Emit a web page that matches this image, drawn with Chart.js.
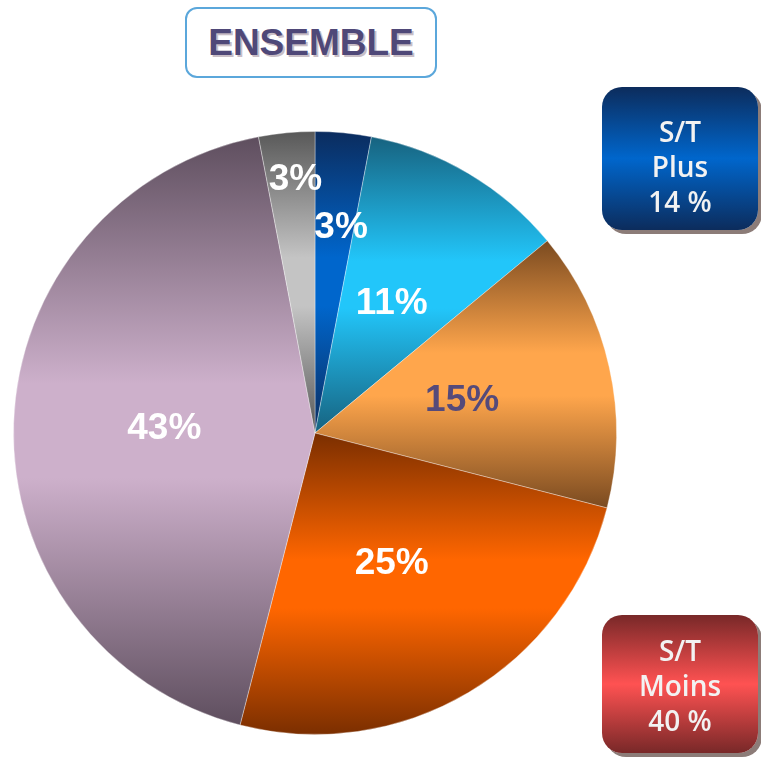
<!DOCTYPE html>
<html>
<head>
<meta charset="utf-8">
<script src="https://cdn.jsdelivr.net/npm/chart.js@4/dist/chart.umd.min.js"></script>
<style>
  html, body { margin: 0; padding: 0; background: #ffffff; }
  #wrap { position: relative; width: 761px; height: 761px; overflow: hidden; }
  #c { position: absolute; left: 0; top: 0; }
  .title {
    position: absolute; left: 185px; top: 7px; width: 248px; height: 67px;
    border: 2px solid #5ba7db; border-radius: 12px; background: #fff;
    display: flex; align-items: center; justify-content: center;
    font-family: "Liberation Sans", Arial, sans-serif; font-weight: bold; font-size: 37px;
    color: #4f4878; text-shadow: 2px 2px 0 #c9bec6; letter-spacing: 0px;
  }
  .box {
    position: absolute; left: 602px; width: 156px; border-radius: 20px;
    box-shadow: 4px 4px 0 #8c7c78;
    display: flex; flex-direction: column; align-items: center; justify-content: center;
    font-family: "Open Sans", "DejaVu Sans", sans-serif; font-weight: 600; font-size: 28px;
    line-height: 35px; color: #f2f2f2; text-align: center;
  }
  #plus { top: 87px; height: 143px; padding-top: 16px; box-sizing: border-box;
    background: linear-gradient(to bottom, #0c2c5c 0%, #0066cc 50%, #0c2c5c 100%); }
  #moins { top: 615px; height: 138px; padding-top: 2px; box-sizing: border-box;
    background: linear-gradient(to bottom, #782828 0%, #ff5252 50%, #782828 100%); }
</style>
</head>
<body>
<div id="wrap">
  <canvas id="c" width="761" height="761"></canvas>
  <div class="title">ENSEMBLE</div>
  <div class="box" id="plus"><div>S/T</div><div>Plus</div><div>14 %</div></div>
  <div class="box" id="moins"><div>S/T</div><div>Moins</div><div>40 %</div></div>
</div>
<script>
// ---- data ----
const categories = ["A", "B", "C", "D", "E", "F"];
const values = [3, 11, 15, 25, 43, 3];
const valueLabels = ["3%", "11%", "15%", "25%", "43%", "3%"];

// ---- styles ----
const darkColors  = ["#0b2c5e", "#17627f", "#7a4a20", "#7a2e00", "#5e4e5e", "#585858"];
const lightColors = ["#0066cc", "#22c6fa", "#ffa64c", "#ff6600", "#cdb0cb", "#c4c4c4"];
const labelColors = ["#ffffff", "#ffffff", "#554a7a", "#ffffff", "#ffffff", "#ffffff"];
const labelRadiusFactor = [0.69, 0.5, 0.5, 0.5, 0.5, 0.845];
const labelAngleShift = [1.8, 0, 0, 0, 0, 1.0];

function sliceGradient(context) {
  const chart = context.chart;
  const area = chart.chartArea;
  const i = context.dataIndex;
  if (!area || i === undefined) return lightColors[i || 0];
  const cx = (area.left + area.right) / 2;
  const cy = (area.top + area.bottom) / 2;
  const r = Math.min(area.right - area.left, area.bottom - area.top) / 2;
  const total = values.reduce((a, b) => a + b, 0);
  let before = 0;
  for (let k = 0; k < i; k++) before += values[k];
  const a0 = -Math.PI / 2 + before / total * 2 * Math.PI;
  const a1 = a0 + values[i] / total * 2 * Math.PI;
  let ys = [cy, cy + r * Math.sin(a0), cy + r * Math.sin(a1)];
  for (let q = -4; q <= 8; q++) {
    const ang = q * Math.PI / 2;
    if (ang > a0 && ang < a1) ys.push(cy + r * Math.sin(ang));
  }
  const y0 = Math.min(...ys), y1 = Math.max(...ys);
  const g = chart.ctx.createLinearGradient(0, y0, 0, y1);
  g.addColorStop(0, darkColors[i]);
  g.addColorStop(0.42, lightColors[i]);
  g.addColorStop(0.58, lightColors[i]);
  g.addColorStop(1, darkColors[i]);
  return g;
}

const labelPlugin = {
  id: 'sliceLabels',
  afterDatasetsDraw(chart) {
    const meta = chart.getDatasetMeta(0);
    const ctx = chart.ctx;
    ctx.save();
    ctx.font = 'bold 37px "Liberation Sans", Arial, sans-serif';
    ctx.textAlign = 'center';
    ctx.textBaseline = 'middle';
    meta.data.forEach((arc, i) => {
      const p = arc.getProps(['x', 'y', 'startAngle', 'endAngle', 'outerRadius'], true);
      const mid = (p.startAngle + p.endAngle) / 2 + labelAngleShift[i] * Math.PI / 180;
      const rr = p.outerRadius * labelRadiusFactor[i];
      ctx.fillStyle = labelColors[i];
      ctx.fillText(valueLabels[i], p.x + rr * Math.cos(mid), p.y + rr * Math.sin(mid) + 1);
    });
    ctx.restore();
  }
};

new Chart(document.getElementById('c'), {
  type: 'pie',
  data: {
    labels: categories,
    datasets: [{
      data: values,
      backgroundColor: sliceGradient,
      borderColor: 'rgba(255,255,255,0.35)',
      borderWidth: 1
    }]
  },
  options: {
    responsive: false,
    animation: false,
    layout: { padding: { left: 13, top: 131, right: 144, bottom: 26 } },
    plugins: { legend: { display: false }, tooltip: { enabled: false }, title: { display: false } }
  },
  plugins: [labelPlugin]
});
</script>
</body>
</html>
